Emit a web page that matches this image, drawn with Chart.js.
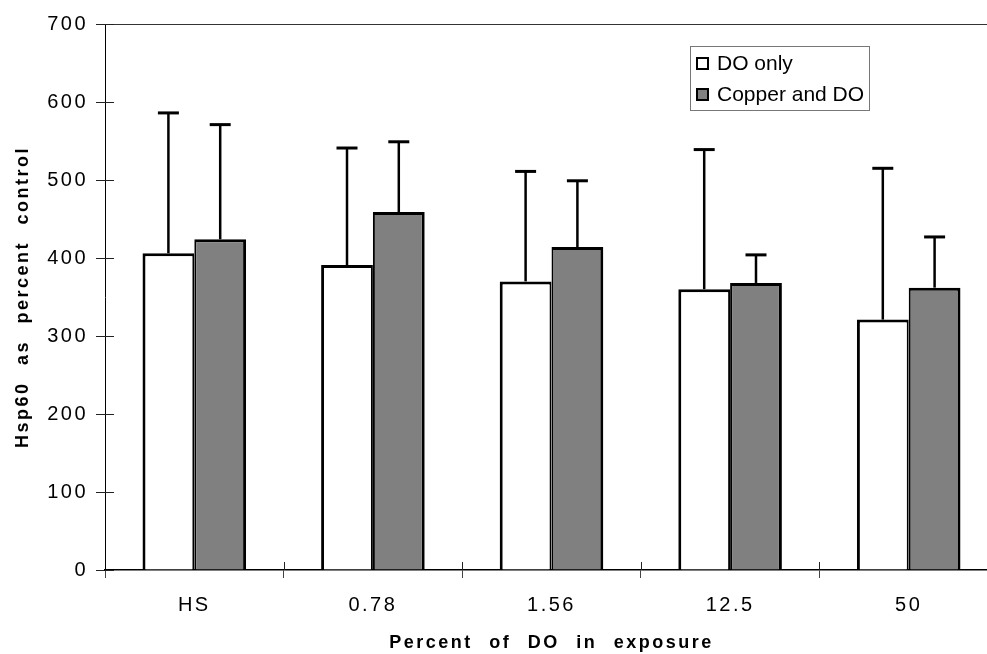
<!DOCTYPE html>
<html>
<head>
<meta charset="utf-8">
<script src="https://cdn.jsdelivr.net/npm/chart.js@4"></script>
<style>
  html, body { margin: 0; padding: 0; background: #fff; overflow: hidden; }
  canvas { display: block; }
</style>
</head>
<body>
<canvas id="myChart" width="1000" height="654"></canvas>
<script>
'use strict';

// categories and values
const categories = ['HS', '0.78', '1.56', '12.5', '50'];
const doOnly = [406, 391, 370, 360, 321];
const doOnlyErr = [180, 150, 141, 179, 194];
const copperDo = [424, 459, 414, 368, 362];
const copperDoErr = [147, 90, 85, 36, 65];
const yTicks = [0, 100, 200, 300, 400, 500, 600, 700];

const FONT = 'Liberation Sans, Arial, Helvetica, sans-serif';

// spacing for the axis texts (the figure has wide letter/word gaps)
const spacingPlugin = {
  id: 'spacing',
  beforeDraw(chart) {
    chart.ctx.letterSpacing = '2.5px';
    chart.ctx.wordSpacing = '9px';
  },
  afterDraw(chart) {
    chart.ctx.letterSpacing = '0px';
    chart.ctx.wordSpacing = '0px';
  }
};

// upward-only error bars with caps
const errorBars = {
  id: 'errorBars',
  afterDatasetsDraw(chart) {
    const ctx = chart.ctx;
    const y = chart.scales.y;
    chart.data.datasets.forEach(function(ds, i) {
      const meta = chart.getDatasetMeta(i);
      meta.data.forEach(function(bar, j) {
        const top = y.getPixelForValue(ds.data[j] + ds.errors[j]);
        ctx.save();
        ctx.strokeStyle = '#000';
        ctx.lineWidth = 2.5;
        ctx.beginPath();
        ctx.moveTo(bar.x, bar.y);
        ctx.lineTo(bar.x, top);
        ctx.stroke();
        ctx.lineWidth = 3;
        ctx.beginPath();
        ctx.moveTo(bar.x - 10.5, top);
        ctx.lineTo(bar.x + 10.5, top);
        ctx.stroke();
        ctx.restore();
      });
    });
  }
};

// tick marks cross the axes, draw the inner half
const innerTicks = {
  id: 'innerTicks',
  afterDraw(chart) {
    const ctx = chart.ctx;
    const x = chart.scales.x;
    const y = chart.scales.y;
    const area = chart.chartArea;
    ctx.save();
    ctx.strokeStyle = '#222';
    ctx.lineWidth = 1;
    y.ticks.forEach(function(t) {
      const py = Math.round(y.getPixelForValue(t.value)) + 0.5;
      ctx.beginPath();
      ctx.moveTo(area.left, py);
      ctx.lineTo(area.left + 9, py);
      ctx.stroke();
    });
    for (let i = 1; i < categories.length; i++) {
      const px = Math.round((x.getPixelForValue(i - 1) + x.getPixelForValue(i)) / 2) + 0.5;
      ctx.beginPath();
      ctx.moveTo(px, area.bottom);
      ctx.lineTo(px, area.bottom - 8);
      ctx.stroke();
    }
    ctx.restore();
  }
};

// boxed legend inside the plot area
const boxLegend = {
  id: 'boxLegend',
  afterDraw(chart) {
    const ctx = chart.ctx;
    ctx.save();
    ctx.letterSpacing = '0px';
    ctx.wordSpacing = '0px';
    ctx.strokeStyle = '#777';
    ctx.lineWidth = 1;
    ctx.strokeRect(690.5, 46.5, 179, 64);
    ctx.font = '21px ' + FONT;
    ctx.textBaseline = 'middle';
    chart.data.datasets.forEach(function(ds, i) {
      const cy = 63 + i * 31;
      ctx.fillStyle = ds.backgroundColor;
      ctx.fillRect(696, cy - 6, 13, 13);
      ctx.strokeStyle = '#000';
      ctx.lineWidth = 2;
      ctx.strokeRect(697, cy - 5, 11, 11);
      ctx.fillStyle = '#000';
      ctx.fillText(ds.label, 717, cy + 1);
    });
    ctx.restore();
  }
};

const ctx = document.getElementById('myChart').getContext('2d');
const chart = new Chart(ctx, {
  type: 'bar',
  data: {
    labels: categories,
    datasets: [{
      label: 'DO only',
      data: doOnly,
      errors: doOnlyErr,
      backgroundColor: '#ffffff',
      borderColor: '#000',
      borderWidth: {left: 3, top: 3, right: 2, bottom: 0},
      categoryPercentage: 0.58,
      barPercentage: 1.0
    },
    {
      label: 'Copper and DO',
      data: copperDo,
      errors: copperDoErr,
      backgroundColor: '#808080',
      borderColor: '#000',
      borderWidth: {left: 2, top: 3, right: 3, bottom: 0},
      categoryPercentage: 0.58,
      barPercentage: 1.0
    }]
  },
  options: {
    responsive: false,
    animation: false,
    layout: {padding: {top: 24, right: 2, left: 0, bottom: 0}},
    plugins: {
      legend: {display: false},
      tooltip: {enabled: false}
    },
    scales: {
      x: {
        offset: true,
        grid: {
          offset: true,
          drawOnChartArea: false,
          tickLength: 8,
          tickColor: '#444',
          lineWidth: 1
        },
        border: {display: true, color: '#000', width: 1.5},
        ticks: {
          color: '#000',
          padding: 15,
          maxRotation: 0,
          font: {family: FONT, size: 20}
        },
        title: {
          display: true,
          text: 'Percent of DO in exposure',
          color: '#000',
          padding: {top: 0, bottom: 0},
          font: {family: FONT, size: 18, weight: 'bold'}
        },
        afterFit(scale) { scale.height = 84; }
      },
      y: {
        min: 0,
        max: 700,
        afterBuildTicks(scale) {
          scale.ticks = yTicks.map(v => ({value: v}));
        },
        grid: {
          color: c => (c.tick && c.tick.value === 700 ? '#333' : 'rgba(0,0,0,0)'),
          tickColor: '#222',
          tickLength: 9,
          lineWidth: 1
        },
        border: {display: true, color: '#000', width: 1},
        ticks: {
          color: '#000',
          padding: 8,
          font: {family: FONT, size: 20}
        },
        title: {
          display: true,
          text: 'Hsp60 as percent control',
          color: '#000',
          padding: {top: 12, bottom: 0},
          font: {family: FONT, size: 18, weight: 'bold'}
        },
        afterFit(scale) { scale.width = 105; }
      }
    }
  },
  plugins: [spacingPlugin, errorBars, innerTicks, boxLegend]
});
</script>
</body>
</html>
